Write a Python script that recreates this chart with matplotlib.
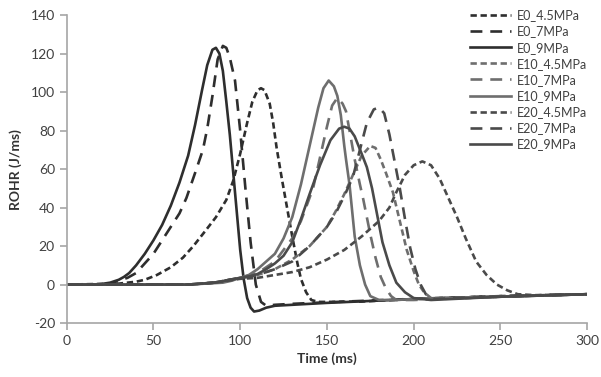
import matplotlib
matplotlib.use("Agg")
import matplotlib.pyplot as plt

plt.rcParams['font.family'] = ['Lato', 'DejaVu Sans']
plt.rcParams['axes.unicode_minus'] = False

# ROHR curves (time ms, J/ms)
t_e0_45 = [0, 30, 40, 45, 52, 60, 67, 73, 80, 86, 92, 96, 100, 104, 107, 110, 112, 114, 117, 119, 121, 124, 127, 130, 133, 135, 138, 141, 145, 150, 170, 200, 250, 300]
v_e0_45 = [0, 0.5, 1.5, 2.5, 5, 9, 14, 20, 28, 35, 44, 54, 68, 84, 95, 101, 102, 101, 94, 84, 71, 55, 40, 25, 11, 3, -4, -8, -9, -9, -8.8, -7.5, -6, -5]

t_e0_7 = [0, 20, 25, 30, 35, 40, 45, 50, 55, 60, 65, 69, 74, 78.5, 81, 84, 87, 90, 92, 94, 97, 100, 103, 106, 109, 112, 115, 120, 130, 150, 200, 250, 300]
v_e0_7 = [0, 0, 0.5, 2, 3.5, 6, 11, 16, 23, 30, 37, 45, 58, 70, 81, 98, 117, 124, 123, 118, 106, 80, 50, 22, 0, -9, -11, -10.5, -10, -9.2, -7.4, -6, -5]

t_e0_9 = [0, 15, 20, 25, 30, 33, 36, 40, 45, 50, 55, 60, 65, 70, 74, 78, 81, 84, 86, 88, 90, 92, 94, 96, 98, 100, 102, 104, 106, 108, 111, 115, 120, 130, 150, 175, 200, 225, 250, 275, 300]
v_e0_9 = [0, 0, 0.3, 1, 2.5, 4, 6, 10, 16, 23, 31, 41, 53, 67, 83, 101, 114, 122, 123, 120, 111, 95, 78, 58, 38, 18, 3, -7, -12, -14, -13.5, -12, -11, -10.5, -9.5, -8.5, -7.5, -6.8, -6.2, -5.6, -5]

t_e10_45 = [0, 70, 85, 100, 110, 120, 130, 140, 150, 155, 160, 165, 170, 175, 178, 181, 184, 188, 192, 196, 200, 203, 206, 210, 230, 250, 300]
v_e10_45 = [0, 0, 1, 3.5, 5, 8, 13, 20, 30, 38, 47, 57, 67, 72, 71, 65, 58, 48, 33, 18, 7, 0, -4, -7, -7, -6.3, -5]

t_e10_7 = [0, 70, 85, 100, 110, 120, 130, 135, 142, 146, 150, 153, 156, 159, 161, 163, 166, 169, 171, 175, 178, 181, 184, 187, 190, 200, 250, 300]
v_e10_7 = [0, 0, 1, 3.5, 6, 12, 24, 33, 50, 66, 82, 93, 97, 94, 90, 80, 65, 52, 44, 26, 14, 4, -2, -6, -8, -8, -6.3, -5]

t_e10_9 = [0, 70, 80, 90, 95, 100, 105, 110, 115, 120, 125, 130, 135, 140, 145, 148, 151, 154, 156, 158, 160, 161, 163, 166, 169, 172, 175, 180, 190, 200, 250, 300]
v_e10_9 = [0, 0, 0.5, 1, 2, 3.5, 5, 8, 12, 16, 24, 35, 52, 72, 92, 102, 106, 103, 98, 88, 72, 65, 52, 25, 10, 0, -6, -8, -8, -7.5, -6.2, -5]

t_e20_45 = [0, 70, 85, 100, 110, 120, 130, 140, 150, 160, 170, 180, 186, 190, 195, 200, 205, 210, 215, 220, 225, 230, 236, 242, 248, 254, 260, 270, 300]
v_e20_45 = [0, 0, 1, 3, 3.5, 5, 6.5, 9, 13, 18, 25, 33, 40, 48, 57, 62, 64, 62, 55, 45, 35, 24, 12, 5, 0, -3, -5, -5.5, -5]

t_e20_7 = [0, 70, 85, 100, 110, 120, 130, 140, 150, 155, 160, 165, 169, 173, 177, 180, 183, 186, 189, 192, 195, 198, 201, 204, 207, 212, 250, 300]
v_e20_7 = [0, 0, 1, 3.5, 5, 8, 12, 20, 30, 37, 46, 56, 70, 84, 91, 92, 89, 78, 64, 50, 34, 19, 8, 0, -5, -7.5, -6.3, -5]

t_e20_9 = [0, 70, 85, 100, 105, 110, 115, 120, 125, 130, 135, 140, 146, 152, 157, 160, 163, 166, 170, 173, 176, 179, 182, 186, 190, 195, 200, 210, 250, 300]
v_e20_9 = [0, 0, 1, 3.5, 4, 5.5, 8, 11, 15, 22, 34, 47, 62, 75, 81, 82, 81, 77, 68, 61, 50, 36, 22, 10, 1, -4, -7, -8, -6.3, -5]

series = [
    ("E0_4.5MPa", t_e0_45, v_e0_45, "#2e2e2e", (2.4, 1.4)),
    ("E0_7MPa", t_e0_7, v_e0_7, "#2e2e2e", (4.5, 3)),
    ("E0_9MPa", t_e0_9, v_e0_9, "#2e2e2e", None),
    ("E10_4.5MPa", t_e10_45, v_e10_45, "#6e6e6e", (2.4, 1.4)),
    ("E10_7MPa", t_e10_7, v_e10_7, "#6e6e6e", (4.5, 3)),
    ("E10_9MPa", t_e10_9, v_e10_9, "#6e6e6e", None),
    ("E20_4.5MPa", t_e20_45, v_e20_45, "#4a4a4a", (2.4, 1.4)),
    ("E20_7MPa", t_e20_7, v_e20_7, "#4a4a4a", (4.5, 3)),
    ("E20_9MPa", t_e20_9, v_e20_9, "#4a4a4a", None),
]

fig = plt.figure(figsize=(6.01, 3.77), dpi=100)
ax = fig.add_axes([0.111, 0.143, 0.866, 0.817])

for name, t, v, c, dash in series:
    line, = ax.plot(t, v, color=c, lw=1.9, label=name)
    if dash is not None:
        line.set_dashes(dash)

ax.set_xlim(0, 300)
ax.set_ylim(-20, 140)
ax.set_xticks(range(0, 301, 50))
ax.set_yticks(range(-20, 141, 20))
for s in ["top", "right"]:
    ax.spines[s].set_visible(False)
for s in ["left", "bottom"]:
    ax.spines[s].set_color("#a6a6a6")
    ax.spines[s].set_linewidth(1.2)
ax.tick_params(colors="#a6a6a6", labelcolor="#404040", labelsize=10, length=5, width=1.2)

ax.set_xlabel("Time (ms)", fontsize=10, fontweight="bold", color="#333333", labelpad=4)
ax.set_ylabel("ROHR (J/ms)", fontsize=10, fontweight="bold", color="#333333", labelpad=6)

leg = ax.legend(loc="upper left", bbox_to_anchor=(0.765, 1.035), frameon=False,
                fontsize=9, handlelength=3.3, handletextpad=0.5, labelspacing=0.33,
                borderaxespad=0)
for txt in leg.get_texts():
    txt.set_color("#404040")

fig.savefig("out.png", dpi=100)
